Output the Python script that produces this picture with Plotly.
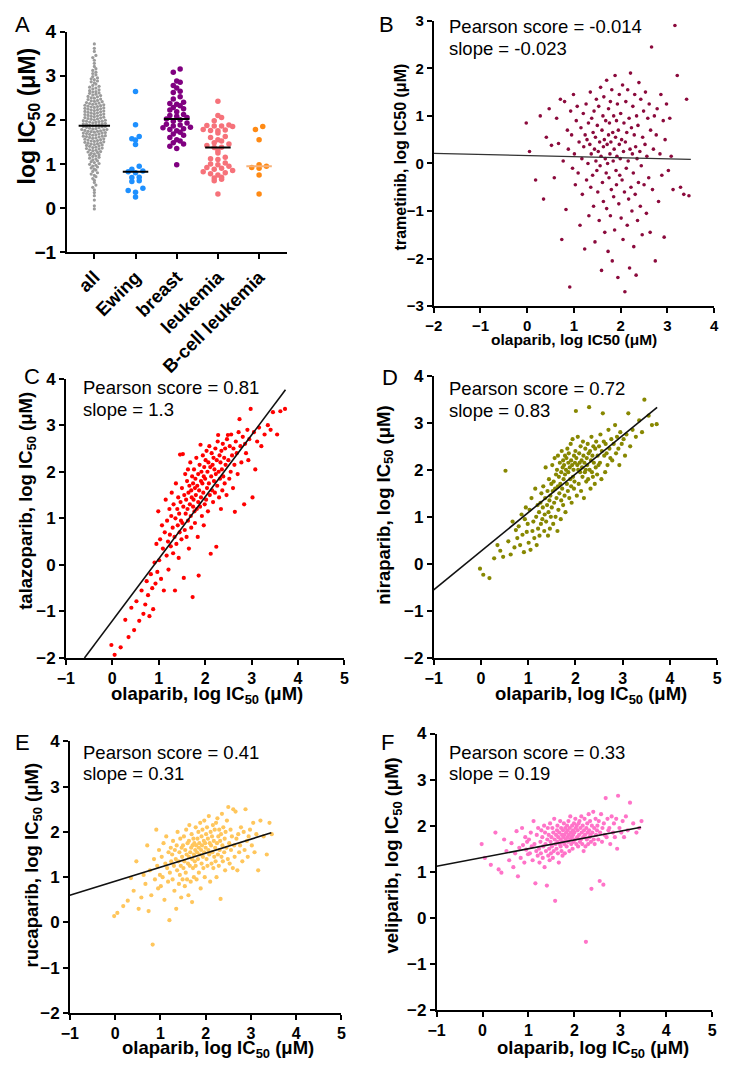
import numpy as np
import plotly.graph_objects as go

# ---------------- data ----------------
# olaparib log IC50 for every cell line (x of panels B-F, "all" group of panel A)
olaparib = [
    -0.02, 0.05, 0.18, 0.28, 0.35, 0.41, 0.47, 0.52, 0.58, 0.63,
    0.67, 0.71, 0.74, 0.77, 0.80, 0.83, 0.86, 0.88, 0.91, 0.93,
    0.95, 0.97, 0.99, 1.01, 1.03, 1.05, 1.07, 1.09, 1.11, 1.13,
    1.15, 1.17, 1.18, 1.20, 1.21, 1.23, 1.24, 1.26, 1.27, 1.28,
    1.30, 1.31, 1.32, 1.34, 1.35, 1.36, 1.37, 1.38, 1.40, 1.41,
    1.42, 1.43, 1.44, 1.45, 1.46, 1.47, 1.48, 1.49, 1.50, 1.51,
    1.52, 1.53, 1.54, 1.55, 1.56, 1.57, 1.58, 1.59, 1.60, 1.61,
    1.62, 1.63, 1.63, 1.64, 1.65, 1.66, 1.67, 1.68, 1.69, 1.70,
    1.70, 1.71, 1.72, 1.73, 1.74, 1.74, 1.75, 1.76, 1.77, 1.78,
    1.78, 1.79, 1.80, 1.81, 1.82, 1.83, 1.84, 1.85, 1.85, 1.86,
    1.87, 1.88, 1.89, 1.90, 1.91, 1.91, 1.92, 1.93, 1.94, 1.95,
    1.96, 1.97, 1.97, 1.98, 1.99, 2.00, 2.01, 2.02, 2.03, 2.04,
    2.05, 2.06, 2.07, 2.08, 2.09, 2.10, 2.11, 2.12, 2.13, 2.14,
    2.15, 2.16, 2.17, 2.18, 2.19, 2.20, 2.21, 2.22, 2.23, 2.24,
    2.25, 2.26, 2.27, 2.28, 2.29, 2.30, 2.31, 2.32, 2.33, 2.34,
    2.35, 2.36, 2.37, 2.38, 2.39, 2.41, 2.42, 2.43, 2.44, 2.46,
    2.47, 2.49, 2.50, 2.52, 2.53, 2.55, 2.56, 2.58, 2.60, 2.61,
    2.63, 2.64, 2.66, 2.68, 2.70, 2.72, 2.74, 2.76, 2.78, 2.81,
    2.84, 2.86, 2.88, 2.91, 2.93, 2.95, 2.98, 3.02, 3.05, 3.08,
    3.12, 3.16, 3.21, 3.28, 3.35, 3.41, 3.46, 3.55, 3.62, 3.72,
]
trametinib = [
    0.85, 0.25, -0.35, 1.00, -0.75, 0.55, 1.15, 0.38, -0.30, 0.95,
    0.42, 1.35, -1.60, 0.05, 1.30, -0.97, 0.70, 0.30, -2.60, 1.10,
    0.60, -0.10, 1.45, 0.20, -0.45, 0.90, 1.20, -0.20, 0.45, -1.30,
    0.75, 0.10, -0.65, 1.05, 0.35, -1.80, 0.60, 1.25, -0.35, 0.50,
    0.00, 0.85, -1.10, 0.40, 1.50, -0.50, 0.20, 0.95, -0.25, 0.65,
    -0.90, 1.10, 0.30, -1.65, 0.55, 0.05, 1.35, -0.15, 0.80, -0.60,
    0.25, 1.20, -1.20, 0.45, -0.05, 1.60, 0.15, -2.25, 0.70, -0.40,
    1.00, 0.35, -0.80, 1.40, 0.50, -1.45, 0.10, 0.90, -0.20, 1.75,
    -0.95, 0.40, 0.00, -1.85, 1.15, 0.60, -0.30, 0.85, 0.20, -1.10,
    1.30, 0.45, -0.55, 1.55, -2.05, 0.65, 0.05, 1.00, -0.70, 0.30,
    -1.40, 1.85, 0.55, -0.15, 0.90, -0.45, 0.15, 1.25, -2.40, 0.70,
    -0.85, 0.40, 1.45, -0.25, 0.10, 1.05, -1.15, 0.50, -0.35, 1.65,
    -1.60, 0.25, 0.85, -0.60, -2.70, 0.45, 1.30, -0.10, 0.65, -1.30,
    1.55, 0.05, -0.75, 0.95, -2.20, 0.30, 1.90, -0.50, 0.75, -1.00,
    0.20, 1.20, -0.20, -1.75, 0.60, 1.45, -0.65, 0.35, -2.35, 1.00,
    0.10, -1.20, 0.80, -0.40, 1.70, 0.25, -0.90, 1.35, -0.05, -1.50,
    0.55, 1.10, -0.45, 0.40, 1.50, -1.05, 0.15, 0.95, -0.30, 1.25,
    -1.45, 0.70, 2.45, -0.55, 0.30, 1.00, -2.05, 0.60, 1.15, -0.80,
    0.20, 1.45, -0.25, 0.90, -1.55, 0.50, 1.25, -0.15, 0.95, 0.15,
    -0.55, 2.90, 1.85, -0.50, -0.65, 1.35, -0.68, None, None, None,
]
talazoparib = [
    -1.72, -1.93, -1.77, -1.18, -1.55, -0.92, -1.40, -0.78, -1.20, -0.55,
    -1.05, -0.85, -0.35, -0.65, -1.10, -0.20, -0.50, -0.95, 0.05, -0.40,
    0.45, -0.15, 1.15, 0.10, 0.55, -0.30, 0.85, 0.35, -0.55, 0.70,
    1.40, 0.20, 0.95, 0.50, -0.10, 1.20, 0.65, 0.40, 1.05, 1.55,
    0.80, 0.25, 1.30, 0.60, -0.55, 1.00, 1.75, 0.45, 1.20, 0.85,
    1.45, 0.15, 1.10, 0.70, 2.37, 1.35, 0.95, 0.55, 1.65, 0.90,
    2.38, 1.25, -0.28, 1.50, 0.75, 1.95, 1.10, 1.40, 0.60, 1.80,
    1.20, 2.05, 0.95, 1.55, 0.35, 1.70, 1.30, 2.20, 1.05, 1.60,
    0.80, 1.45, 1.90, -0.69, 1.25, 1.75, 1.40, 2.05, 1.15, 1.65,
    0.90, 1.85, 1.50, 2.30, 1.20, 1.70, 0.60, 1.95, 1.35, -0.23,
    1.60, 2.15, 1.25, 2.58, 1.80, 1.45, 2.00, 1.05, 1.75, 2.35,
    1.55, 0.85, 1.90, 2.10, 1.30, 1.85, 2.25, 1.40, 2.45, 1.65,
    2.00, 1.15, 2.20, 1.75, 2.55, 1.50, 2.10, 0.24, 1.90, 2.40,
    1.60, 2.15, 1.35, 2.30, 1.80, 2.05, 1.55, 2.50, 1.95, 0.39,
    2.25, 1.70, 2.65, 2.79, 2.00, 1.45, 2.35, 1.85, 2.20, 1.20,
    2.45, 2.05, 1.60, 2.60, 1.90, 2.30, 1.75, 2.50, 2.15, 1.50,
    2.70, 2.79, 2.25, 1.85, 2.55, 2.00, 2.80, 2.35, 1.65, 2.50,
    2.15, 1.14, 2.65, 2.40, 1.95, 2.85, 3.13, 2.55, 2.20, 2.75,
    1.30, 2.60, 2.40, 2.90, 2.25, 2.70, 3.35, 1.45, 2.85, 2.05,
    2.65, 2.95, 2.55, 2.80, 3.00, 2.90, 3.28, 2.80, 3.30, 3.35,
]
niraparib = [
    -0.10, -0.23, -0.30, 0.12, 0.40, 0.28, 0.15, 1.98, 0.48, 0.20,
    0.90, 0.35, 0.72, 0.55, 0.80, 0.40, 1.05, 0.62, 0.25, 0.95,
    1.20, 0.68, 0.85, 0.45, 1.15, 0.30, 1.40, 0.70, 0.90, 0.55,
    1.60, 1.00, 0.40, 1.25, 0.75, 1.10, 0.60, 1.30, 0.85, 1.50,
    0.95, 1.20, 1.65, 0.70, 1.05, 1.40, 2.05, 0.90, 1.25, 1.55,
    0.60, 1.10, 1.80, 1.35, 0.75, 1.45, 1.00, 1.70, 1.20, 2.10,
    1.55, 0.85, 1.75, 1.30, 2.25, 1.60, 1.00, 1.90, 1.40, 2.00,
    0.70, 1.65, 2.30, 1.15, 1.85, 1.50, 2.15, 1.70, 0.95, 1.95,
    1.35, 2.40, 1.60, 2.05, 1.25, 2.20, 1.80, 2.10, 1.45, 2.30,
    1.90, 1.10, 2.00, 2.25, 1.70, 2.45, 1.55, 2.15, 1.95, 2.35,
    1.40, 2.05, 1.80, 2.55, 1.65, 2.20, 1.30, 2.10, 2.65, 1.85,
    2.00, 1.60, 2.30, 1.75, 2.15, 2.40, 3.25, 2.25, 1.45, 2.10,
    2.70, 2.00, 1.70, 2.35, 2.15, 1.95, 2.50, 1.55, 2.20, 2.05,
    1.85, 2.60, 2.30, 1.40, 2.15, 1.95, 2.45, 2.00, 1.75, 2.25,
    2.10, 2.55, 1.80, 2.35, 3.33, 2.00, 2.40, 1.60, 2.20, 2.70,
    1.95, 2.30, 1.85, 2.50, 2.15, 1.70, 2.45, 2.05, 2.60, 1.90,
    2.30, 2.10, 2.50, 2.15, 2.75, 1.80, 2.40, 3.20, 2.60, 2.30,
    1.95, 2.55, 2.35, 2.10, 2.85, 2.45, 2.25, 2.65, 2.20, 2.55,
    2.95, 2.35, 2.70, 2.45, 2.10, 2.80, 2.55, 2.65, 2.30, 2.75,
    3.20, 2.50, 2.85, 2.70, 3.05, 2.80, 3.49, 3.15, 2.95, 2.97,
]
rucaparib = [
    0.14, 0.21, 0.36, 0.48, 0.98, 0.70, 1.35, 0.30, 0.55, 1.05,
    0.85, 1.70, 0.25, 1.15, 0.60, -0.49, 1.40, 0.95, 2.05, 1.25,
    0.75, 1.60, 1.05, 0.80, 1.45, 1.00, 1.75, 0.50, 1.30, 1.90,
    1.20, 0.90, 1.55, 0.05, 1.10, 1.65, 1.35, 1.50, 0.95, 1.80,
    1.25, 0.70, 1.60, 1.40, 0.30, 1.70, 1.15, 2.00, 1.35, 0.85,
    1.55, 1.05, 1.85, 1.25, 0.55, 1.65, 1.45, 0.95, 1.70, 1.20,
    1.90, 1.35, 0.80, 1.60, 1.10, 2.05, 1.50, 0.95, 1.75, 1.30,
    0.60, 1.80, 1.45, 2.15, 1.25, 1.55, 0.90, 1.65, 1.95, 1.40,
    0.45, 1.70, 1.20, 1.85, 1.50, 1.00, 1.75, 1.35, 1.60, 2.10,
    1.25, 1.70, 0.95, 1.55, 1.85, 1.40, 2.00, 1.65, 1.10, 1.75,
    1.50, 2.20, 0.75, 1.60, 1.90, 1.30, 1.70, 2.05, 1.45, 1.20,
    1.80, 2.25, 1.55, 1.00, 1.75, 1.65, 1.95, 1.40, 2.10, 1.25,
    1.85, 1.60, 2.35, 1.50, 1.75, 0.90, 2.00, 1.70, 1.30, 1.90,
    1.55, 2.15, 1.20, 1.80, 1.45, 2.05, 1.65, 1.35, 2.20, 1.00,
    1.75, 2.30, 1.50, 1.90, 1.25, 2.05, 1.60, 1.80, 0.52, 1.95,
    1.45, 2.40, 1.70, 1.35, 2.10, 1.55, 1.85, 1.15, 2.00, 1.65,
    2.25, 1.40, 2.55, 1.75, 1.30, 2.05, 1.60, 1.90, 1.20, 2.50,
    1.70, 1.45, 2.45, 1.85, 1.15, 1.95, 1.55, 1.70, 2.10, 1.35,
    2.00, 1.60, 2.50, 1.80, 1.45, 1.90, 2.05, 1.70, 2.20, 1.55,
    1.95, 1.15, 2.25, 1.90, 1.50, 2.20, 1.95, None, None, None,
]
veliparib = [
    1.60, 1.30, 1.15, 1.85, 1.05, 0.98, 1.70, 1.45, 1.25, 1.62,
    1.10, 1.40, 1.88, 0.90, 1.52, 1.30, 1.95, 1.58, 1.20, 1.75,
    1.48, 1.65, 1.38, 1.70, 1.40, 1.85, 1.55, 1.25, 2.10, 1.60,
    0.75, 1.45, 1.80, 1.35, 1.95, 1.50, 1.20, 1.65, 1.40, 1.90,
    1.75, 1.30, 1.55, 2.00, 1.10, 1.85, 1.60, 1.45, 0.70, 1.70,
    1.95, 1.35, 1.80, 1.50, 1.25, 2.05, 1.65, 1.40, 1.75, 1.55,
    1.95, 1.30, 1.85, 1.45, 2.15, 1.70, 0.37, 1.60, 1.80, 1.50,
    1.90, 1.65, 2.00, 1.40, 1.75, 1.20, 1.85, 1.60, 2.10, 1.70,
    1.55, 1.95, 1.45, 1.80, 1.65, 1.35, 1.90, 1.75, 2.05, 1.60,
    1.80, 1.40, 1.95, 1.70, 1.85, 1.55, 2.00, 1.75, 1.90, 1.65,
    2.10, 1.80, 1.45, 1.95, 1.70, 2.20, 1.85, 1.60, 1.75, 2.00,
    1.50, 1.90, 1.80, 1.65, 2.05, 1.85, 1.70, 2.15, 1.95, 1.60,
    2.00, 1.75, 1.90, 1.55, 2.05, 1.80, 2.10, 1.65, 1.95, 1.70,
    2.20, 1.85, 1.60, 2.00, 1.75, 1.45, 1.90, 2.15, 1.80, 1.55,
    -0.52, 1.95, 1.70, 2.05, 1.85, 1.60, 2.25, 1.90, 1.75, 2.10,
    1.80, 1.65, 0.63, 2.00, 1.85, 2.30, 1.70, 1.95, 1.60, 2.15,
    1.80, 1.90, 2.00, 1.70, 2.10, 0.80, 1.85, 2.25, 1.65, 1.95,
    0.72, 2.05, 1.80, 2.60, 1.75, 2.15, 1.90, 1.95, 1.60, 2.20,
    1.85, 2.05, 1.75, 2.15, 1.50, 2.65, 1.95, 1.85, 2.10, 1.75,
    2.20, 1.90, 2.50, 2.05, 1.85, 1.95, 2.10, None, None, None,
]

# panel A tumour-type groups (olaparib log IC50)
ewing = [2.64, 1.89, 1.62, 1.57, 1.54, 1.44, 0.95, 0.88, 0.84, 0.82,
         0.80, 0.70, 0.69, 0.62, 0.60, 0.45, 0.40, 0.36, 0.25]
breast = [3.15, 3.08, 2.88, 2.85, 2.78, 2.72, 2.65, 2.62, 2.52, 2.47,
          2.40, 2.37, 2.35, 2.32, 2.28, 2.25, 2.22, 2.18, 2.12, 2.10,
          2.08, 2.05, 2.02, 2.00, 1.97, 1.93, 1.90, 1.88, 1.86, 1.83,
          1.82, 1.80, 1.78, 1.75, 1.72, 1.68, 1.65, 1.60, 1.55, 1.52,
          1.48, 1.45, 1.40, 1.35, 0.98]
leukemia = [2.42, 2.10, 2.05, 1.98, 1.88, 1.87, 1.86, 1.86, 1.85, 1.78,
            1.77, 1.76, 1.75, 1.70, 1.62, 1.60, 1.55, 1.52, 1.48, 1.45,
            1.42, 1.38, 1.37, 1.30, 1.25, 1.15, 1.12, 1.10, 1.02, 1.00,
            0.98, 0.95, 0.92, 0.90, 0.88, 0.85, 0.82, 0.80, 0.78, 0.75,
            0.70, 0.68, 0.65, 0.62, 0.32]
bcell_leukemia = [1.85, 1.78, 1.55, 0.98, 0.95, 0.92, 0.90, 0.75, 0.32]
categories = ["all", "Ewing", "breast", "leukemia", "B-cell leukemia"]

# correlation statistics printed on panels B-F, and the fitted lines drawn
drug_names = ["trametinib", "talazoparib", "niraparib", "rucaparib", "veliparib"]
pearson_txt = ["-0.014", "0.81", "0.72", "0.41", "0.33"]
slope_txt = ["-0.023", "1.3", "0.83", "0.31", "0.19"]
fit_slope = [-0.023, 1.33, 0.82, 0.31, 0.19]
fit_intercept = [0.165, -1.20, 0.27, 0.91, 1.31]
fit_xmin = [-2.0, -0.6, -1.0, -1.0, -1.0]
fit_xmax = [3.5, 3.73, 3.73, 3.45, 3.45]

# ---------------- figure ----------------
FONT = "Liberation Sans"
W, H = 729, 1071


def fx(p):
    return p / W


def fy(p):
    return 1 - p / H


def swarm_offsets(vals, h, d):
    vals = np.asarray(vals, float)
    keys = np.round(vals / h).astype(int)
    off = np.zeros(len(vals))
    for k in np.unique(keys):
        idx = np.where(keys == k)[0]
        idx = idx[np.argsort(vals[idx])]
        n = len(idx)
        slots = (np.arange(n) - (n - 1) / 2) * d
        order = np.argsort(np.abs(slots), kind="stable")
        for j, i in enumerate(idx):
            off[i] = slots[order[j]]
    return off


fig = go.Figure()

# ---- panel A ----
groupsA = [olaparib, ewing, breast, leukemia, bcell_leukemia]
colA = ["#9b9b9b", "#1e90ff", "#800080", "#f6727a", "#ff8a14"]
sizeA = [3.2, 5.5, 5.5, 5.5, 5.5]
binA = [0.07, 0.1, 0.1, 0.1, 0.1]
stepA = [3.2, 7.5, 7.0, 7.5, 7.5]
medcol = ["black", "black", "black", "black", "#f7b27a"]
medhalf = [16, 13, 13, 13, 13]
cat_px = 42.0
for i, g in enumerate(groupsA):
    v = np.array([t for t in g if t is not None], float)
    xs = i + swarm_offsets(v, binA[i], stepA[i] / cat_px)
    fig.add_trace(go.Scatter(x=xs, y=v, mode="markers", xaxis="x", yaxis="y",
                             marker=dict(size=sizeA[i], color=colA[i], line=dict(width=0)),
                             showlegend=False, hoverinfo="skip"))
for i, g in enumerate(groupsA):
    v = np.array([t for t in g if t is not None], float)
    m = float(np.median(v))
    hw = medhalf[i] / cat_px
    fig.add_trace(go.Scatter(x=[i - hw, i + hw], y=[m, m], mode="lines", xaxis="x", yaxis="y",
                             line=dict(color=medcol[i], width=2), showlegend=False,
                             hoverinfo="skip"))

# ---- panels B-F ----
ys_all = [trametinib, talazoparib, niraparib, rucaparib, veliparib]
cols = ["#8b0a3c", "#ff0000", "#878700", "#ffc65c", "#ff73c8"]
msize = [3.6, 4.2, 4.2, 4.2, 4.2]
for k in range(5):
    ax_id = str(k + 2)
    xv = [a for a, b in zip(olaparib, ys_all[k]) if b is not None]
    yv = [b for b in ys_all[k] if b is not None]
    fig.add_trace(go.Scatter(x=xv, y=yv, mode="markers", xaxis="x" + ax_id, yaxis="y" + ax_id,
                             marker=dict(size=msize[k], color=cols[k], line=dict(width=0)),
                             showlegend=False, hoverinfo="skip"))
    lx = np.array([fit_xmin[k], fit_xmax[k]])
    ly = fit_slope[k] * lx + fit_intercept[k]
    fig.add_trace(go.Scatter(x=lx, y=ly, mode="lines", xaxis="x" + ax_id, yaxis="y" + ax_id,
                             line=dict(color="#111111" if k else "#333333", width=1.6 if k else 1.3),
                             showlegend=False, hoverinfo="skip"))


def axis(domain, rng, fs, lw=1.6, anchor=None, **kw):
    d = dict(domain=domain, range=rng, showline=True, linecolor="black", linewidth=lw,
             ticks="outside", ticklen=5, tickwidth=lw, tickcolor="black",
             showgrid=False, zeroline=False, anchor=anchor,
             tickfont=dict(family=FONT, size=fs, color="black", weight="bold"))
    d.update(kw)
    return d


# domains in pixels: (x_left, x_right, y_top, y_bottom)
dom = {
    "A": (59, 283, 22, 247),
    "B": (433, 719, 11, 302),
    "C": (58, 342, 376, 661),
    "D": (433, 722, 373, 661),
    "E": (62, 339, 746, 1023),
    "F": (436, 717, 738, 1020),
}


def xd(key):
    a = dom[key]
    return [fx(a[0]), fx(a[1])]


def yd(key):
    a = dom[key]
    return [fy(a[3]), fy(a[2])]


layout = dict(
    width=W, height=H, margin=dict(l=0, r=0, t=0, b=0),
    paper_bgcolor="white", plot_bgcolor="white", showlegend=False,
    font=dict(family=FONT, color="black"),
)
layout["xaxis"] = axis(xd("A"), [-0.667, 4.667], 18.5, lw=2, anchor="y",
                       tickmode="array", tickvals=list(range(len(categories))),
                       ticktext=categories, tickangle=-45)
layout["yaxis"] = axis(yd("A"), [-1, 4], 19, lw=2, anchor="x", dtick=1, tick0=0)
layout["xaxis2"] = axis(xd("B"), [-2, 4], 15, anchor="y2", dtick=1, tick0=0)
layout["yaxis2"] = axis(yd("B"), [-3, 3], 15, anchor="x2", dtick=1, tick0=0)
for k, key in zip(range(3, 7), ["C", "D", "E", "F"]):
    layout["xaxis%d" % k] = axis(xd(key), [-1, 5], 16, anchor="y%d" % k, dtick=1, tick0=0)
    layout["yaxis%d" % k] = axis(yd(key), [-2, 4], 17, anchor="x%d" % k, dtick=1, tick0=0)
fig.update_layout(**layout)

ann = []


def text(x, y, s, size, bold=False, angle=0, xanchor="center"):
    ann.append(dict(x=fx(x), y=fy(y), xref="paper", yref="paper", text=s, showarrow=False,
                    textangle=angle, xanchor=xanchor, yanchor="middle",
                    font=dict(family=FONT, size=size, color="black",
                              weight="bold" if bold else "normal")))


IC = "log IC<sub>50</sub> (μM)"
# panel letters
for L, (x, y) in {"A": (14, 15), "B": (385, 15), "C": (23, 374), "D": (388, 375),
                  "E": (14, 747), "F": (386, 747)}.items():
    text(x, y, L, 22)
# axis titles
text(20, 108, IC, 23, bold=True, angle=-90)
text(399, 150, "trametinib, log IC50 (μM)", 16, bold=True, angle=-90)
text(576, 336, "olaparib, log IC50 (μM)", 15.5, bold=True)
ytitles = {"C": (19, 501), "D": (383, 505), "E": (24, 872), "F": (392, 862)}
xtitles = {"C": (202, 699), "D": (593, 699), "E": (213, 1060), "F": (595, 1060)}
for k, key in enumerate(["C", "D", "E", "F"]):
    text(*ytitles[key], drug_names[k + 1] + ", " + IC, 18.5, bold=True, angle=-90)
    text(*xtitles[key], "olaparib, " + IC, 18.5, bold=True)
# statistics text
statpos = {"B": (447, 17), "C": (73, 385), "D": (447, 386), "E": (73, 757), "F": (447, 757)}
for k, key in enumerate(["B", "C", "D", "E", "F"]):
    x0, y0 = statpos[key]
    text(x0, y0, "Pearson score = " + pearson_txt[k], 18.5, xanchor="left")
    text(x0, y0 + 22, "slope = " + slope_txt[k], 18.5, xanchor="left")

fig.update_layout(annotations=ann)
fig.write_html("out.html", config={"displayModeBar": False},
               post_script="document.body.style.margin='0';document.body.style.overflow='hidden';")
